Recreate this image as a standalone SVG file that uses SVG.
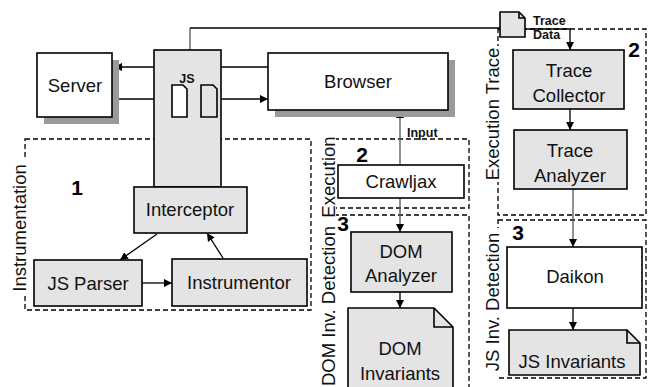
<svg xmlns="http://www.w3.org/2000/svg" width="648" height="387" viewBox="0 0 648 387">
<defs>
<marker id="ah" viewBox="0 0 10 10" refX="10" refY="5" markerWidth="8" markerHeight="8" markerUnits="userSpaceOnUse" orient="auto">
<path d="M0,0 L10,5 L0,10 z" fill="#000"/>
</marker>
<style>
.box{stroke:#000;stroke-width:1.6}
.g{fill:#e4e4e4}
.w{fill:#fff}
.sh{fill:#9a9a9a}
.dash{fill:none;stroke:#000;stroke-width:1.3;stroke-dasharray:5,3}
.t{font-family:"Liberation Sans",Arial,sans-serif;font-size:18.5px;fill:#111;text-anchor:middle}
.r{font-family:"Liberation Sans",Arial,sans-serif;font-size:18.5px;fill:#111;text-anchor:middle}
.n{font-family:"Liberation Sans",Arial,sans-serif;font-size:21px;font-weight:bold;fill:#000;text-anchor:middle}
.s{font-family:"Liberation Sans",Arial,sans-serif;font-size:12.5px;font-weight:bold;fill:#111}
.ln{fill:none;stroke:#000;stroke-width:1.3}
.lg{fill:none;stroke:#555;stroke-width:1.3}
.bg{fill:#fff}
</style>
</defs>

<!-- group boxes -->
<g id="instrumentation-group">
<rect class="dash" x="25" y="139" width="286" height="171"/>
<rect class="bg" x="12" y="160" width="16" height="135"/>
<text class="r" font-size="19" transform="translate(26,228) rotate(-90)">Instrumentation</text>
<text class="n" x="77" y="195">1</text>
</g>
<g id="execution-group">
<rect class="dash" x="334" y="139" width="135" height="69"/>
<text class="n" x="362" y="162">2</text>
</g>
<g id="dom-detection-group">
<rect class="dash" x="334" y="215" width="135" height="185"/>
<text class="n" x="343" y="231">3</text>
</g>
<g id="side-labels-mid">
<rect class="bg" x="320" y="133" width="16" height="90"/>
<rect class="bg" x="320" y="225" width="16" height="165"/>
<text class="r" transform="translate(335,177) rotate(-90)">Execution</text>
<text class="r" font-size="17.5" transform="translate(335,306) rotate(-90)">DOM Inv. Detection</text>
</g>
<g id="execution-trace-group">
<rect class="dash" x="498" y="29" width="148" height="186"/>
<rect class="bg" x="484" y="46" width="16" height="136"/>
<text class="r" transform="translate(499,114) rotate(-90)">Execution Trace</text>
<text class="n" x="634" y="57">2</text>
</g>
<g id="js-detection-group">
<rect class="dash" x="498" y="220" width="148" height="158"/>
<rect class="bg" x="484" y="228" width="16" height="149"/>
<text class="r" transform="translate(499,302) rotate(-90)">JS Inv. Detection</text>
<text class="n" x="518" y="240">3</text>
</g>

<!-- connectors -->
<g id="connectors">
<line class="ln" x1="154" y1="67" x2="114" y2="67" marker-end="url(#ah)"/>
<line class="ln" x1="112" y1="99" x2="172" y2="99"/>
<line class="ln" x1="221" y1="67" x2="268" y2="67"/>
<line class="ln" x1="217" y1="99" x2="268" y2="99" marker-end="url(#ah)"/>
<line class="ln" x1="179" y1="117" x2="179" y2="187" marker-end="url(#ah)"/>
<line class="lg" x1="209" y1="117" x2="209" y2="185"/>
<line class="ln" x1="157" y1="234" x2="120" y2="260" marker-end="url(#ah)"/>
<line class="ln" x1="142" y1="283" x2="172" y2="283" marker-end="url(#ah)"/>
<line class="ln" x1="223" y1="258" x2="207" y2="233" marker-end="url(#ah)"/>
<line class="lg" x1="400" y1="165" x2="400" y2="110" marker-end="url(#ah)"/>
<line class="lg" x1="400" y1="198" x2="400" y2="232" marker-end="url(#ah)"/>
<line class="ln" x1="400" y1="292" x2="400" y2="308" marker-end="url(#ah)"/>
<polyline class="lg" points="190,50 190,28"/>
<polyline class="ln" points="190,28 500,28"/>
<polyline class="ln" points="525,29 570,29 570,50" marker-end="url(#ah)"/>
<line class="ln" x1="570" y1="109" x2="570" y2="130" marker-end="url(#ah)"/>
<line class="lg" x1="573" y1="189" x2="573" y2="247" marker-end="url(#ah)"/>
<line class="ln" x1="573" y1="308" x2="573" y2="330" marker-end="url(#ah)"/>
<text class="s" x="407" y="137">Input</text>
</g>

<!-- nodes -->
<g id="server">
<rect class="sh" x="44" y="60" width="75" height="64"/>
<rect class="box w" x="37" y="53" width="75" height="64"/>
<text class="t" x="75" y="92">Server</text>
</g>
<g id="browser">
<rect class="sh" x="275" y="60" width="180" height="57"/>
<rect class="box w" x="268" y="53" width="180" height="57"/>
<text class="t" x="358" y="88">Browser</text>
</g>
<g id="js-proxy">
<rect class="box g" x="154" y="50" width="67" height="137"/>
<path class="box w" d="M172,85 H183 L187,89 V117 H172 Z"/>
<path class="box g" d="M201,85 H213 L217,89 V117 H201 Z"/>
<text class="s" x="187" y="83" font-size="11" text-anchor="middle">JS</text>
</g>
<g id="interceptor">
<rect class="box g" x="134" y="187" width="113" height="46"/>
<text class="t" x="190" y="216">Interceptor</text>
</g>
<g id="js-parser">
<rect class="box g" x="34" y="260" width="108" height="46"/>
<text class="t" x="88" y="290">JS Parser</text>
</g>
<g id="instrumentor">
<rect class="box g" x="172" y="259" width="135" height="47"/>
<text class="t" x="239" y="289">Instrumentor</text>
</g>
<g id="crawljax">
<rect class="box w" x="338" y="165" width="126" height="33"/>
<text class="t" x="401" y="188">Crawljax</text>
</g>
<g id="dom-analyzer">
<rect class="box g" x="351" y="232" width="101" height="60"/>
<text class="t" x="401" y="258">DOM</text>
<text class="t" x="401" y="282">Analyzer</text>
</g>
<g id="dom-invariants">
<path class="box g" d="M348,308 H434 L453,327 V395 H348 Z"/>
<path class="box" fill="none" d="M434,308 V327 H453"/>
<text class="t" x="400" y="355">DOM</text>
<text class="t" x="400" y="380">Invariants</text>
</g>
<g id="trace-data">
<path class="box g" d="M500,12 H519 L525,18 V37 H500 Z"/>
<path class="box" fill="none" d="M519,12 V18 H525"/>
<text class="s" x="533" y="25">Trace</text>
<text class="s" x="533" y="39">Data</text>
</g>
<g id="trace-collector">
<rect class="box g" x="513" y="50" width="111" height="59"/>
<text class="t" x="569" y="77">Trace</text>
<text class="t" x="569" y="102">Collector</text>
</g>
<g id="trace-analyzer">
<rect class="box g" x="514" y="130" width="113" height="59"/>
<text class="t" x="570" y="157">Trace</text>
<text class="t" x="570" y="182">Analyzer</text>
</g>
<g id="daikon">
<rect class="box w" x="507" y="247" width="135" height="61"/>
<text class="t" x="575" y="283">Daikon</text>
</g>
<g id="js-invariants">
<path class="box g" d="M509,330 H627 L640,343 V375 H509 Z"/>
<path class="box" fill="none" d="M627,330 V343 H640"/>
<text class="t" x="572" y="368">JS Invariants</text>
</g>
</svg>
